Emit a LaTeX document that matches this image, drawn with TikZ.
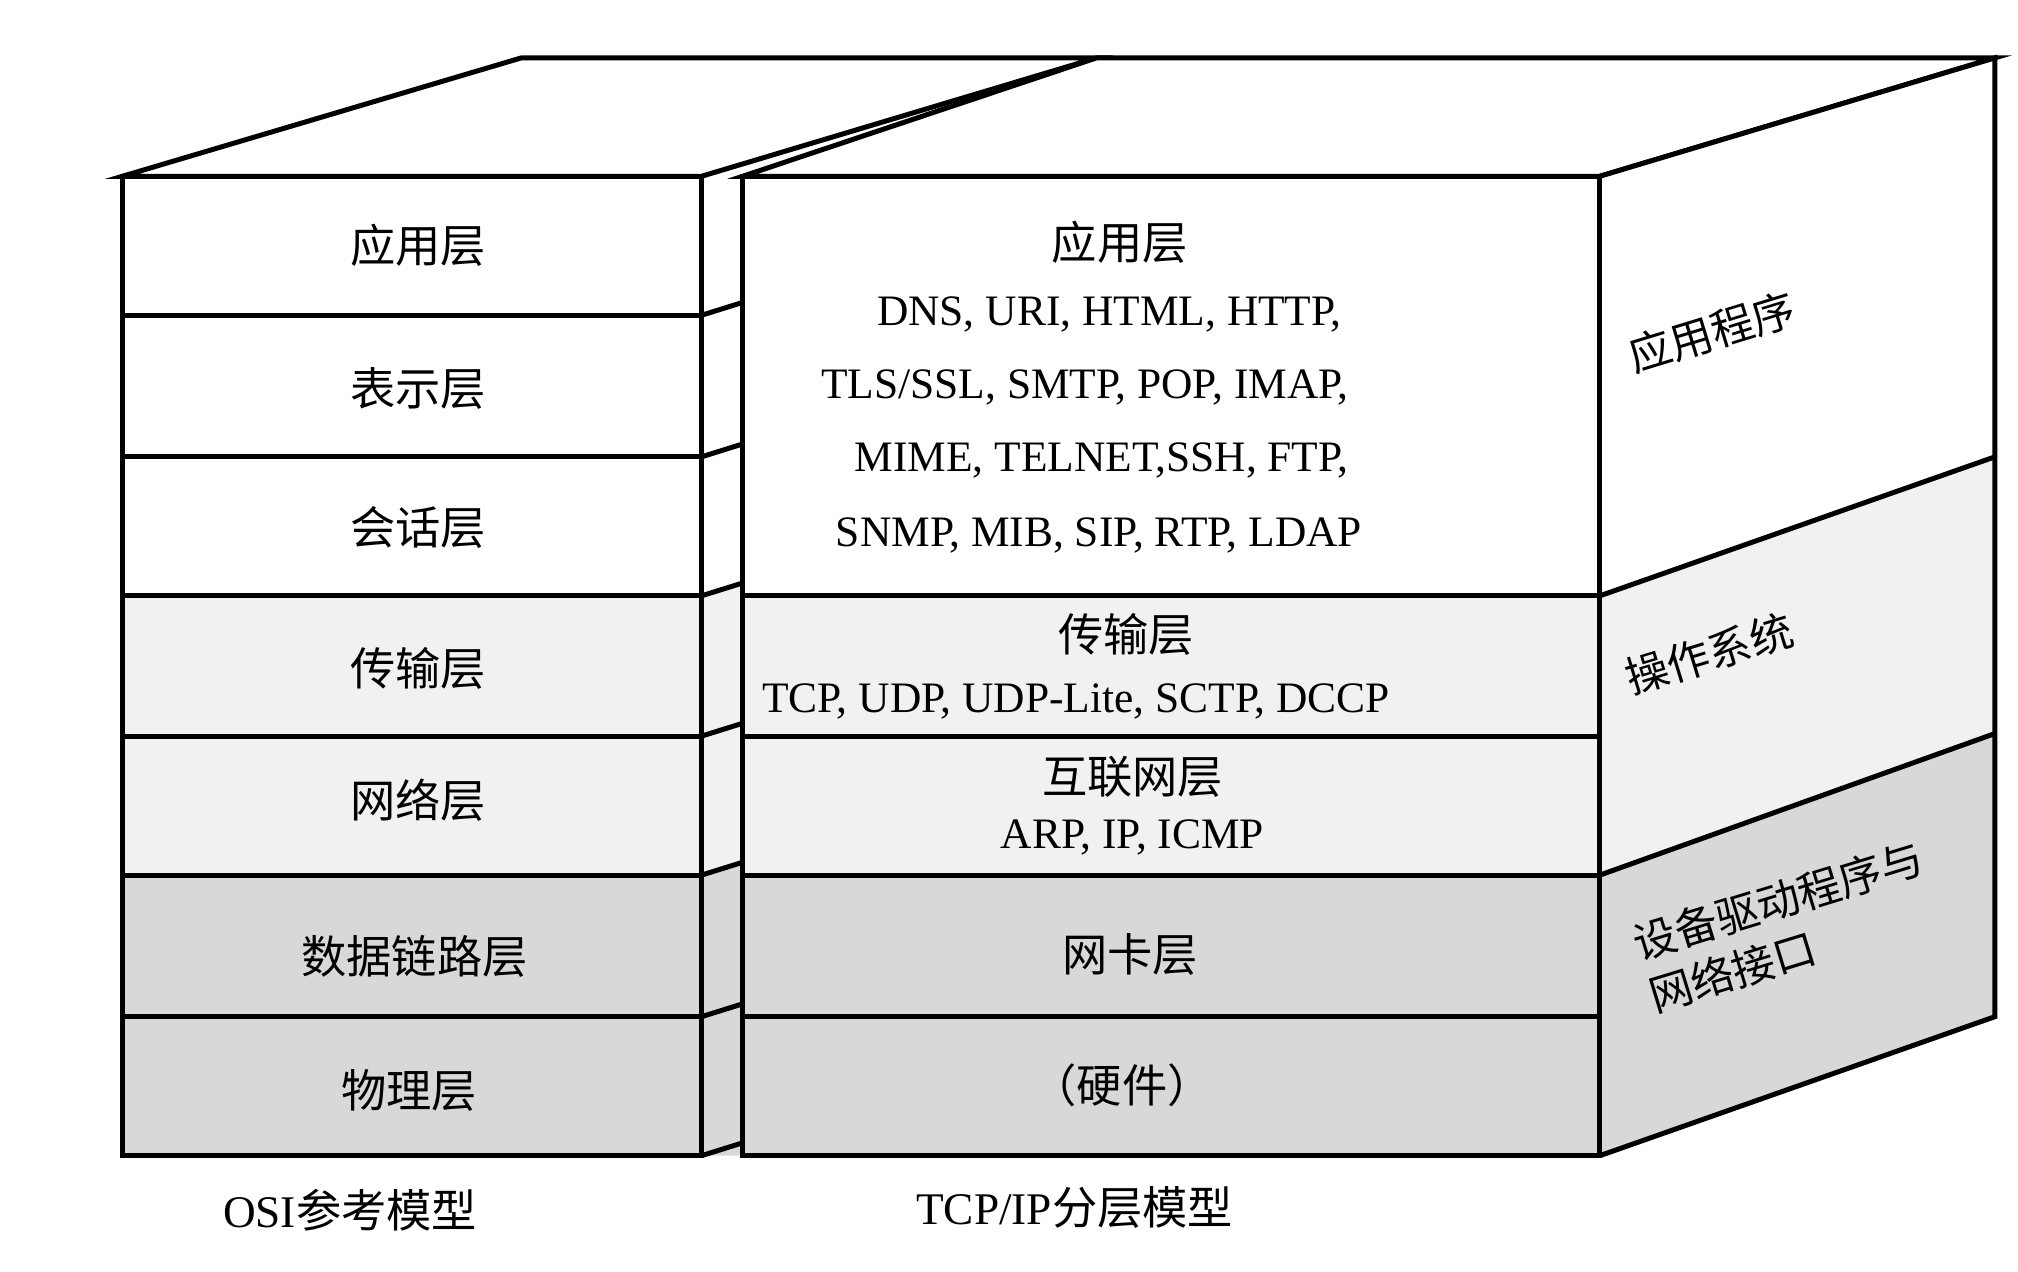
\documentclass[tikz,border=0pt]{standalone}
\usepackage{fontspec}
\setmainfont{Liberation Serif}
\newfontfamily\cjk{Noto Sans CJK SC}
\definecolor{lg}{HTML}{F1F1F1}
\definecolor{dg}{HTML}{D8D8D8}
\begin{document}
\begin{tikzpicture}[x=0.01cm,y=-0.01cm,line width=1.1pt,
  lbl/.style={font=\fontsize{10}{14}\selectfont\cjk},
  lat/.style={font=\fontsize{9.6}{14}\selectfont},
  side/.style={font=\fontsize{9.5}{12}\selectfont\cjk,rotate=17,align=left,inner sep=1pt}]
\useasboundingbox (0,0) rectangle (1568,988);
% left box top
\draw[fill=white] (95,137) -- (405,45) -- (852,45) -- (545,137) -- cycle;
% left box visible side strip
\fill[lg] (545,463) -- (577,453) -- (577,680) -- (545,680) -- cycle;
\fill[dg] (545,680) -- (577,670) -- (577,898) -- (545,898) -- cycle;
\foreach \y in {245,355,463,572,680,790,898}{\draw (545,\y) -- (577,\y-10);}
% left box front
\fill[white] (95,137) rectangle (545,463);
\fill[lg] (95,463) rectangle (545,680);
\fill[dg] (95,680) rectangle (545,898);
\draw (95,137) rectangle (545,898);
\foreach \y in {245,355,463,572,680,790}{\draw (95,\y) -- (545,\y);}
% right box top
\draw[fill=white] (577,137) -- (852,45) -- (1550,45) -- (1243,137) -- cycle;
% right side
\fill[white] (1243,137) -- (1550,45) -- (1550,355) -- (1243,463) -- cycle;
\fill[lg] (1243,463) -- (1550,355) -- (1550,570) -- (1243,680) -- cycle;
\fill[dg] (1243,680) -- (1550,570) -- (1550,790) -- (1243,898) -- cycle;
\draw (1243,137) -- (1550,45) -- (1550,790) -- (1243,898);
\draw (1243,463) -- (1550,355);
\draw (1243,680) -- (1550,570);
% right front
\fill[white] (577,137) rectangle (1243,463);
\fill[lg] (577,463) rectangle (1243,680);
\fill[dg] (577,680) rectangle (1243,898);
\draw (577,137) rectangle (1243,898);
\foreach \y in {463,572,680,790}{\draw (577,\y) -- (1243,\y);}
% left labels
\node[lbl] (l1) at (325,191) {应用层};
\node[lbl] (l2) at (325,302) {表示层};
\node[lbl] (l3) at (325,410) {会话层};
\node[lbl] (l4) at (325,519) {传输层};
\node[lbl] (l5) at (325,622) {网络层};
\node[lbl] (l6) at (322,743) {数据链路层};
\node[lbl] (l7) at (318,847) {物理层};
% right labels
\node[lbl] (r1) at (870,188) {应用层};
\node[lat] (r1a) at (862,244) {DNS, URI, HTML, HTTP,};
\node[lat] (r1b) at (843,301) {TLS/SSL, SMTP, POP, IMAP,};
\node[lat] (r1c) at (856,358) {MIME, TELNET,SSH, FTP,};
\node[lat] (r1d) at (854,416) {SNMP, MIB, SIP, RTP, LDAP};
\node[lbl] (r2) at (875,493) {传输层};
\node[lat] (r2a) at (836,545) {TCP, UDP, UDP-Lite, SCTP, DCCP};
\node[lbl] (r3) at (880,604) {互联网层};
\node[lat] (r3a) at (880,651) {ARP, IP, ICMP};
\node[lbl] (r4) at (878,742) {网卡层};
\node[lbl] (r5) at (872,843) {（硬件）};
% side labels
\node[side] (s1) at (1330,258) {应用程序};
\node[side] (s2) at (1328,508) {操作系统};
\node[side] (s3) at (1388,720) {设备驱动程序与\\网络接口};
% captions
\node[lbl,font=\fontsize{10}{14}\selectfont] (c1) at (272,940) {OSI{\cjk 参考模型}};
\node[lbl,font=\fontsize{10}{14}\selectfont] (c2) at (835,938) {TCP/IP{\cjk 分层模型}};
\end{tikzpicture}
\end{document}
